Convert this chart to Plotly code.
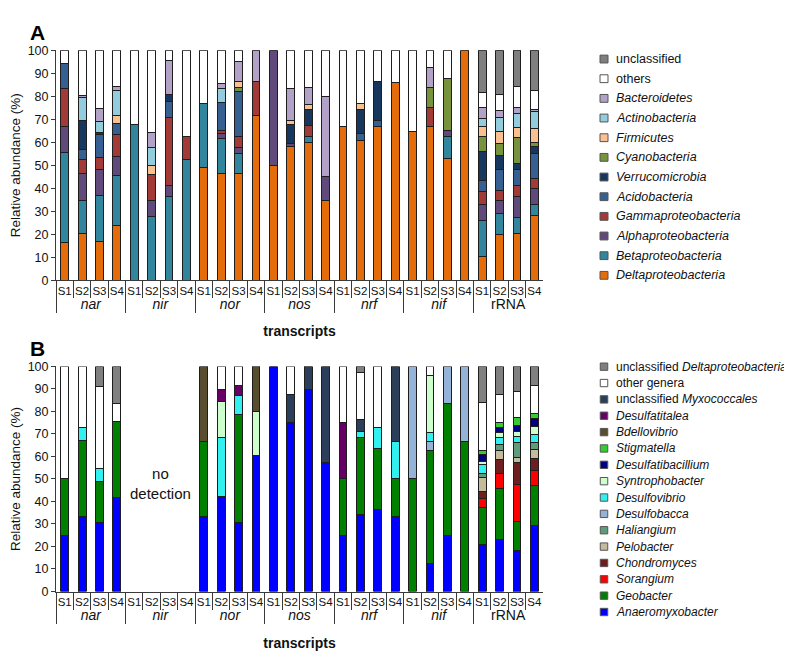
import plotly.graph_objects as go

W, H = 792, 660

groups = ["nar", "nir", "nor", "nos", "nrf", "nif", "rRNA"]
samples = ["S1", "S2", "S3", "S4"]

# ---- panel A: taxa, stacked bottom -> top ----
delta = [16.5, 20.5, 16.9, 23.8, 0, 0, 0, 0, 49, 46.6, 46.6, 71.8, 50, 58, 59.8, 34.8,
         66.8, 60.8, 66.8, 86, 64.7, 66.8, 52.8, 100, 10.5, 19.8, 20.5, 28]
beta = [39.2, 14.3, 20, 21.8, 67.5, 27.8, 36.6, 52.6, 27.9, 15.1, 8.5, 0, 0, 0, 2.5, 0,
        0, 0, 0, 0, 0, 0, 9.9, 0, 15.4, 9.3, 6.9, 5]
alpha = [11.1, 11.8, 11.1, 8.4, 0, 7, 4.7, 0, 0, 2.2, 2.4, 0, 50, 1.5, 0, 10.4,
         0, 0, 0, 0, 0, 0, 2.5, 0, 6.9, 5.7, 9.2, 6.7]
gamma = [16.5, 6.1, 5.3, 9.3, 0, 11.1, 29.5, 9.9, 0, 1.1, 5, 14.4, 0, 0, 4.9, 0,
         0, 0, 0, 0, 0, 8.3, 0, 0, 5.9, 4.2, 4.6, 4.5]
acido = [11, 4.3, 10, 5, 0, 0, 7.1, 0, 0, 12.1, 19.4, 0, 0, 0, 0, 0,
         0, 3.2, 2.6, 0, 0, 0, 0, 0, 4.6, 9, 6.8, 10.9]
verruco = [0, 12.4, 0.8, 0, 0, 0, 2.9, 0, 0, 0, 0, 0, 0, 8, 7.2, 0,
           0, 10.4, 17.1, 0, 0, 0, 0, 0, 12.5, 6.4, 2.8, 2.9]
cyano = [0, 0, 0, 0, 0, 0, 0, 0, 0, 0, 2.1, 0, 0, 0, 0, 0,
         0, 0, 0, 0, 0, 8.5, 22.3, 0, 6.7, 5, 11.4, 2.1]
firm = [0, 0, 0, 3.4, 0, 4.2, 0, 0, 0, 0, 2.5, 0, 0, 2, 2.1, 0,
        0, 2.5, 0, 0, 0, 0, 0, 0, 4.5, 5.3, 4.2, 6]
actino = [0, 9.9, 5.1, 10.7, 0, 7.4, 0, 0, 0, 6.4, 0, 0, 0, 0, 0, 0,
          0, 0, 0, 0, 0, 0, 0, 0, 3.4, 6.1, 6.1, 7.1]
bacter = [0, 1.0, 5.3, 1.8, 0, 6.9, 14.6, 0, 0, 1.9, 8.5, 13.8, 0, 13.8, 7.4, 34.9,
          0, 0, 0, 0, 0, 8.8, 0, 0, 4.7, 2.8, 2.5, 0.9]
others = [5.7, 19.7, 25.5, 15.8, 32.5, 35.6, 4.6, 37.5, 23.1, 14.6, 5, 0, 0, 16.7, 16.1, 19.9,
          33.2, 23.1, 13.5, 14, 35.3, 7.6, 12.5, 0, 6.4, 7.2, 9.2, 8.5]
unclass = [0, 0, 0, 0, 0, 0, 0, 0, 0, 0, 0, 0, 0, 0, 0, 0,
           0, 0, 0, 0, 0, 0, 0, 0, 18.5, 19.2, 15.8, 17.4]

# ---- panel B: genera, stacked bottom -> top ----
anaero = [25, 33.4, 30.5, 41.9, 0, 0, 0, 0, 33.4, 42.2, 30.5, 60.3, 100, 75, 89.8, 57.1,
          25, 34.2, 36.3, 33.4, 0, 12.5, 25, 0, 21.1, 23, 18.2, 29.2]
geobac = [25, 33.5, 18.2, 33.4, 0, 0, 0, 0, 33.2, 0, 48, 0, 0, 0, 0, 0,
          25, 34.3, 27.4, 16.7, 50, 50, 58.3, 66.7, 16.1, 22.8, 12.8, 17.7]
sorang = [0, 0, 0, 0, 0, 0, 0, 0, 0, 0, 0, 0, 0, 0, 0, 0,
          0, 0, 0, 0, 0, 0, 0, 0, 3.9, 6.7, 16.7, 7]
chondro = [0, 0, 0, 0, 0, 0, 0, 0, 0, 0, 0, 0, 0, 0, 0, 0,
           0, 0, 0, 0, 0, 0, 0, 0, 3.2, 6.1, 9.7, 5.4]
pelobac = [0, 0, 0, 0, 0, 0, 0, 0, 0, 0, 0, 0, 0, 0, 0, 0,
           0, 0, 0, 0, 0, 0, 0, 0, 6.3, 3.9, 2.2, 3.6]
haliang = [0, 0, 0, 0, 0, 0, 0, 0, 0, 0, 0, 0, 0, 0, 0, 0,
           0, 0, 0, 0, 0, 0, 0, 0, 1.9, 2.9, 6.7, 3.4]
dbacca = [0, 0, 0, 0, 0, 0, 0, 0, 0, 0, 0, 0, 0, 0, 0, 0,
          0, 0, 0, 0, 50, 4.1, 16.7, 33.3, 0, 0, 0, 0]
dvibrio = [0, 6, 5.8, 0, 0, 0, 0, 0, 0, 26.1, 8.4, 0, 0, 0, 0, 0,
           0, 2.7, 9.1, 16.7, 0, 4, 0, 0, 3.9, 2.9, 2.5, 3.5]
syntro = [0, 0, 0, 0, 0, 0, 0, 0, 0, 16, 0, 19.8, 0, 0, 0, 0,
          0, 0, 0, 0, 0, 25.3, 0, 0, 1.4, 2.3, 2.1, 3.7]
dtbacil = [0, 0, 0, 0, 0, 0, 0, 0, 0, 0, 0, 0, 0, 0, 0, 0,
           0, 0, 0, 0, 0, 0, 0, 0, 3.0, 2.2, 2.9, 3.5]
stigma = [0, 0, 0, 0, 0, 0, 0, 0, 0, 0, 0, 0, 0, 0, 0, 0,
          0, 0, 0, 0, 0, 0, 0, 0, 1.7, 2.2, 3.7, 1.9]
bdello = [0, 0, 0, 0, 0, 0, 0, 0, 33.4, 0, 0, 19.9, 0, 0, 0, 0,
          0, 0, 0, 0, 0, 0, 0, 0, 0, 0, 0, 0]
dtitalea = [0, 0, 0, 0, 0, 0, 0, 0, 0, 5.5, 4.4, 0, 0, 0, 0, 0,
            25, 0, 0, 0, 0, 0, 0, 0, 0, 0, 0, 0]
myxo = [0, 0, 0, 0, 0, 0, 0, 0, 0, 0, 0, 0, 0, 12.6, 10.2, 42.9,
        0, 5.3, 0, 33.2, 0, 0, 0, 0, 0, 0, 0, 0]
othergen = [50, 27.1, 36.5, 8, 0, 0, 0, 0, 0, 10.2, 8.7, 0, 0, 12.4, 0, 0,
            25, 21, 27.2, 0, 0, 4.1, 0, 0, 21.5, 12.6, 11.3, 12.4]
uncldelta = [0, 0, 9, 16.7, 0, 0, 0, 0, 0, 0, 0, 0, 0, 0, 0, 0,
             0, 2.5, 0, 0, 0, 0, 0, 0, 16, 12.4, 11.2, 8.7]

# (label, values, colour) in stacking order; legend shows them reversed
series_a = [
    ("<i>Deltaproteobacteria</i>", delta, "#E46C0A"),
    ("<i>Betaproteobacteria</i>", beta, "#31859C"),
    ("<i>Alphaproteobacteria</i>", alpha, "#604A7B"),
    ("<i>Gammaproteobacteria</i>", gamma, "#A23B38"),
    ("<i>Acidobacteria</i>", acido, "#376092"),
    ("<i>Verrucomicrobia</i>", verruco, "#17375E"),
    ("<i>Cyanobacteria</i>", cyano, "#77933C"),
    ("<i>Firmicutes</i>", firm, "#FAC090"),
    ("<i>Actinobacteria</i>", actino, "#93CDDD"),
    ("<i>Bacteroidetes</i>", bacter, "#B3A2C7"),
    ("others", others, "#FFFFFF"),
    ("unclassified", unclass, "#7F7F7F"),
]
series_b = [
    ("<i>Anaeromyxobacter</i>", anaero, "#0000FF"),
    ("<i>Geobacter</i>", geobac, "#008000"),
    ("<i>Sorangium</i>", sorang, "#FF0000"),
    ("<i>Chondromyces</i>", chondro, "#6E1E1E"),
    ("<i>Pelobacter</i>", pelobac, "#C4BA9C"),
    ("<i>Haliangium</i>", haliang, "#5E9C7C"),
    ("<i>Desulfobacca</i>", dbacca, "#95B3D7"),
    ("<i>Desulfovibrio</i>", dvibrio, "#33F0F0"),
    ("<i>Syntrophobacter</i>", syntro, "#CCFFCC"),
    ("<i>Desulfatibacillium</i>", dtbacil, "#000080"),
    ("<i>Stigmatella</i>", stigma, "#33CC33"),
    ("<i>Bdellovibrio</i>", bdello, "#584D2E"),
    ("<i>Desulfatitalea</i>", dtitalea, "#660066"),
    ("unclassified <i>Myxococcales</i>", myxo, "#2B3E5A"),
    ("other genera", othergen, "#FFFFFF"),
    ("unclassified <i>Deltaproteobacteria</i>", uncldelta, "#808080"),
]

FONT = "Liberation Sans, Arial, sans-serif"
EDGE = "#1E1E1E"
AX = "#3A3A3A"


def group_label(g):
    txt = g if g == "rRNA" else "<i>%s</i>" % g
    return '<span style="font-size:14px">%s</span>' % txt


x_outer = [group_label(g) for g in groups for s in samples]
x_inner = [s for g in groups for s in samples]

fig = go.Figure()
for axis_id, series in (("", series_a), ("2", series_b)):
    for name, vals, col in series:
        fig.add_trace(go.Bar(
            x=[x_outer, x_inner], y=[v if v else None for v in vals], name=name,
            marker=dict(color=col, line=dict(color=EDGE, width=1)),
            xaxis="x" + axis_id, yaxis="y" + axis_id, showlegend=False,
        ))


def px2x(p):
    return p / W


def px2y(p):
    return 1 - p / H


xdom = [px2x(48), px2x(535)]
xcommon = dict(
    type="multicategory", domain=xdom, showline=True, linecolor=AX, linewidth=1,
    ticks="outside", ticklen=17, tickcolor=AX, tickwidth=1, tickangle=0,
    tickfont=dict(size=11.5, color="#111"), showdividers=True,
    dividercolor=AX, dividerwidth=1, showgrid=False, zeroline=False,
    title=dict(text="<b>transcripts</b>", font=dict(size=14, color="#111")),
)
ycommon = dict(
    range=[0, 100], dtick=10, ticks="outside", ticklen=4, tickcolor=AX,
    showline=True, linecolor=AX, linewidth=1, showgrid=False, zeroline=False,
    tickfont=dict(size=12.5, color="#111"),
    title=dict(text="Relative abundance (%)", font=dict(size=13.5, color="#111"), standoff=6),
)

fig.update_layout(
    width=W, height=H, barmode="stack", bargap=0.55,
    paper_bgcolor="white", plot_bgcolor="white",
    margin=dict(l=0, r=0, t=0, b=0),
    font=dict(family=FONT, color="#111"),
    xaxis=dict(xcommon, anchor="y"),
    yaxis=dict(ycommon, domain=[px2y(271), px2y(36)], anchor="x"),
    xaxis2=dict(xcommon, anchor="y2"),
    yaxis2=dict(ycommon, domain=[px2y(589), px2y(359)], anchor="x2"),
)

# panel letters
for letter, ypx in (("A", 17.5), ("B", 340.5)):
    fig.add_annotation(text="<b>%s</b>" % letter, x=px2x(29), y=px2y(ypx), xref="paper", yref="paper",
                       xanchor="center", yanchor="middle", showarrow=False,
                       font=dict(size=21, color="#000"))

# no detection for nir in panel B (centre of the nir group)
fig.add_annotation(text="no<br>detection", x=6 / 28, y=48, xref="x2 domain", yref="y2",
                   xanchor="center", yanchor="middle", showarrow=False,
                   font=dict(size=15, color="#111"))


# legends drawn as swatch + text, listed top -> bottom
def add_legend(series, y0, step, box, fsize):
    for i, (name, vals, col) in enumerate(reversed(series)):
        yc = y0 + step * i
        fig.add_shape(type="rect", xref="paper", yref="paper",
                      x0=px2x(596 - box / 2), x1=px2x(596 + box / 2),
                      y0=px2y(yc + box / 2), y1=px2y(yc - box / 2),
                      fillcolor=col, line=dict(color="#555", width=1))
        fig.add_annotation(text=name, x=px2x(606), y=px2y(yc), xref="paper", yref="paper",
                           xanchor="left", yanchor="middle", showarrow=False,
                           font=dict(size=fsize, color="#111"))


add_legend(series_a, 45, 20.09, 8, 12.5)
add_legend(series_b, 359.3, 16.71, 7.5, 12)

fig.write_html("out.html")
